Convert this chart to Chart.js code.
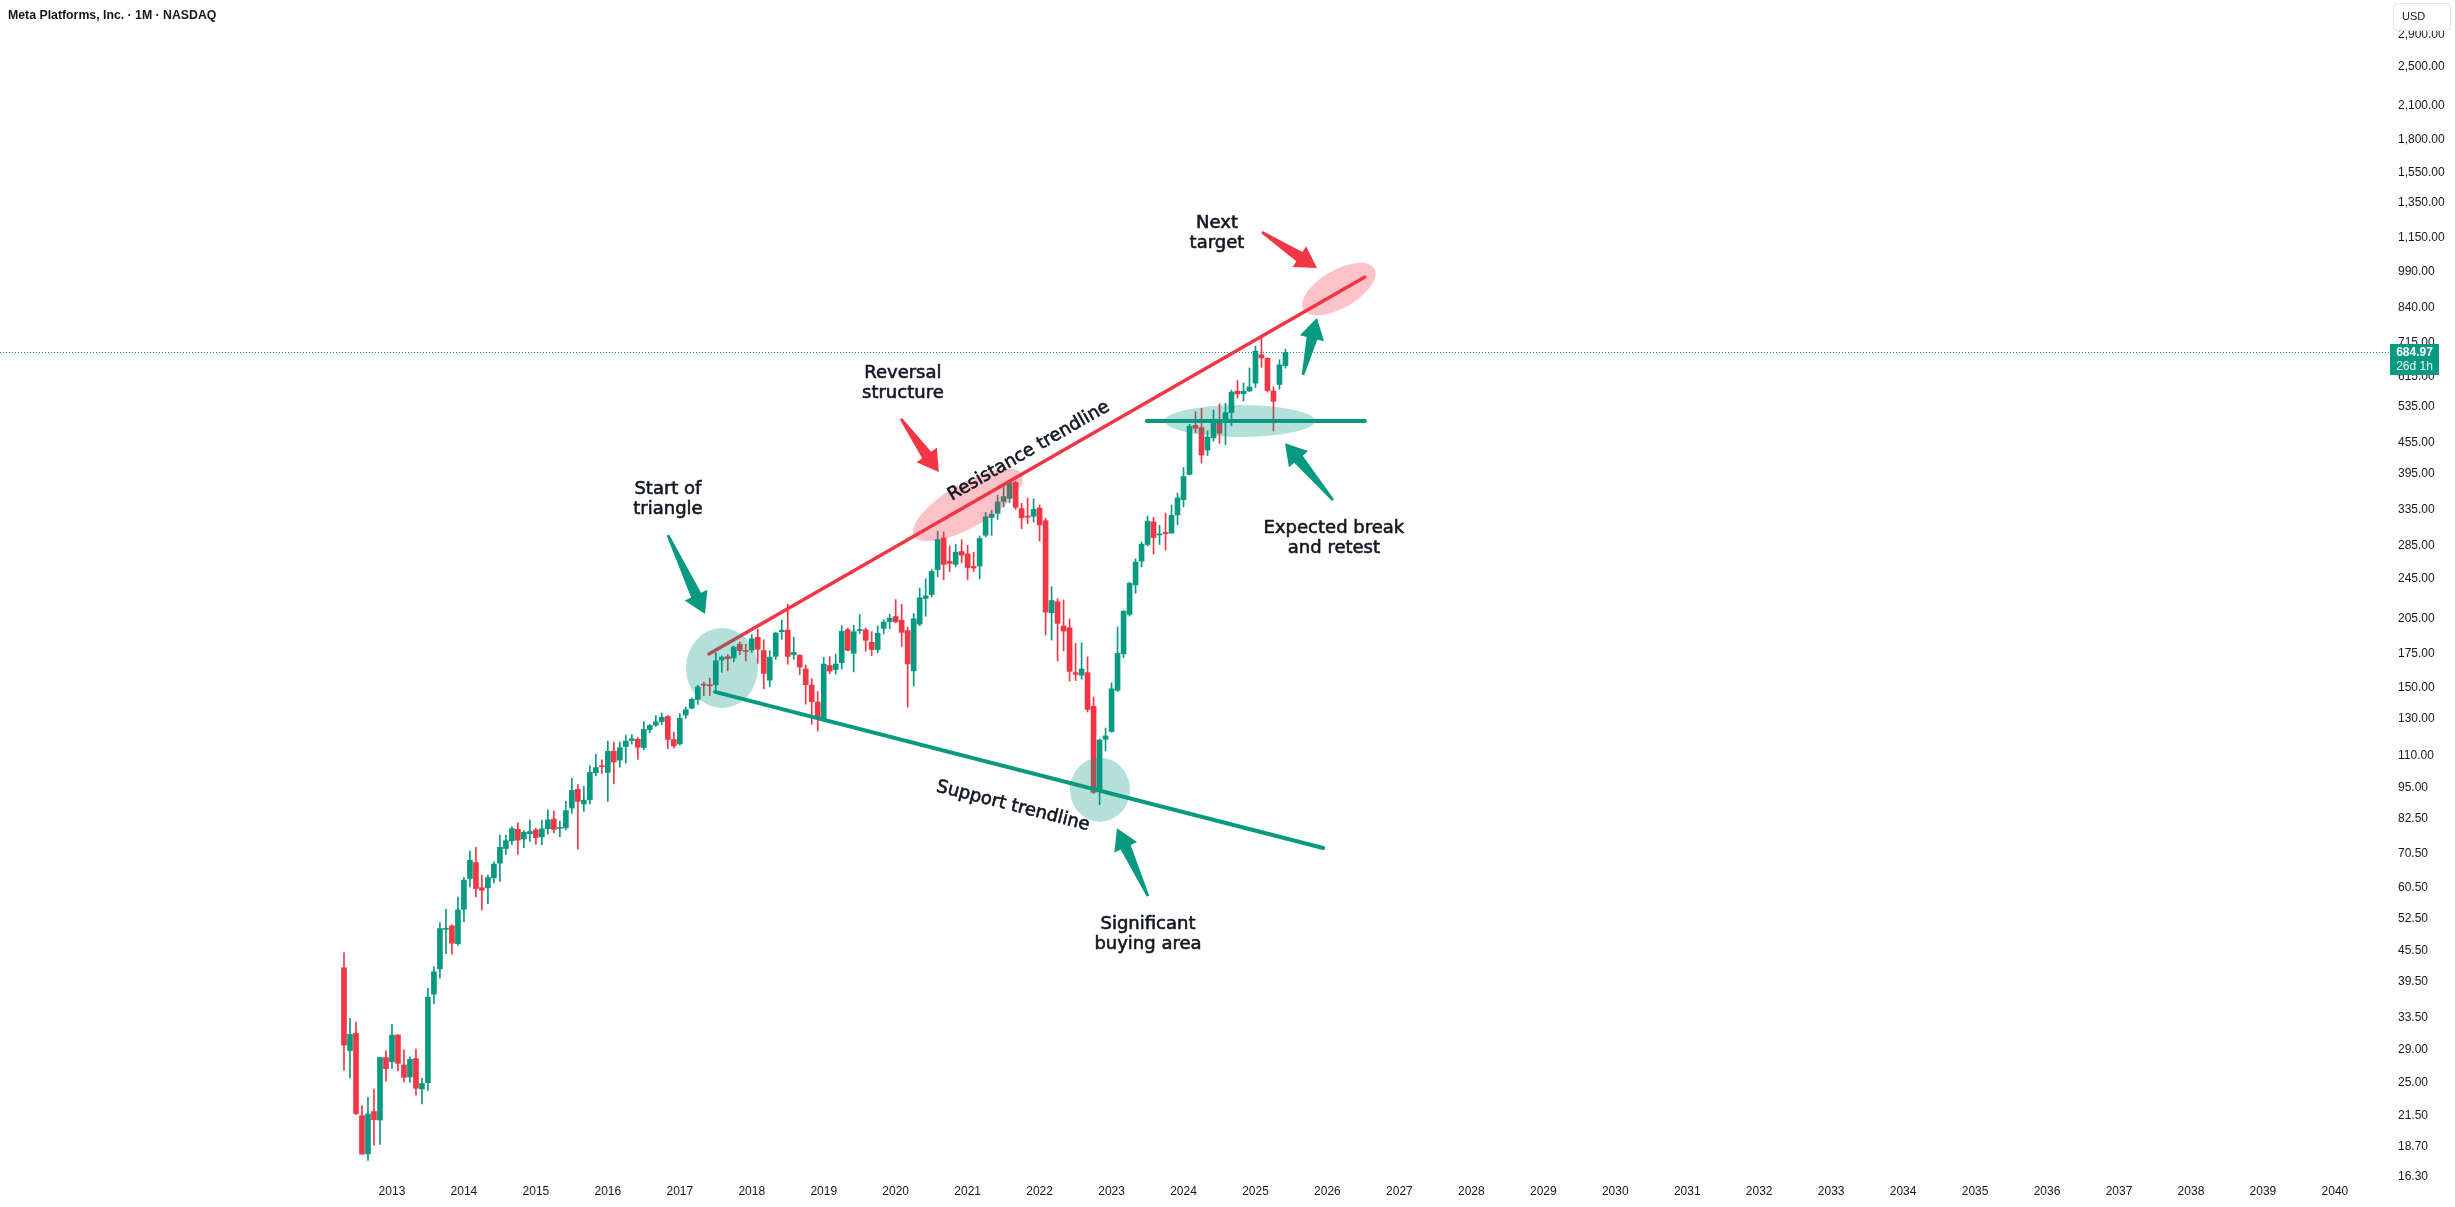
<!DOCTYPE html>
<html>
<head>
<meta charset="utf-8">
<title>Meta Platforms, Inc. · 1M · NASDAQ</title>
<script src="https://cdn.jsdelivr.net/npm/chart.js@4.4.1/dist/chart.umd.min.js"></script>
<style>
  html, body { margin: 0; padding: 0; background: #ffffff; }
  #wrap { width: 2455px; height: 1207px; position: relative; }
</style>
</head>
<body>
<div id="wrap"><canvas id="chart"></canvas></div>
<script>
// ---------------------------------------------------------------------------
// Monthly candles META, May 2012 .. Jun 2025
// ---------------------------------------------------------------------------
const months = [
  "2012-05","2012-06","2012-07","2012-08","2012-09","2012-10","2012-11","2012-12",
  "2013-01","2013-02","2013-03","2013-04","2013-05","2013-06","2013-07","2013-08","2013-09","2013-10","2013-11","2013-12",
  "2014-01","2014-02","2014-03","2014-04","2014-05","2014-06","2014-07","2014-08","2014-09","2014-10","2014-11","2014-12",
  "2015-01","2015-02","2015-03","2015-04","2015-05","2015-06","2015-07","2015-08","2015-09","2015-10","2015-11","2015-12",
  "2016-01","2016-02","2016-03","2016-04","2016-05","2016-06","2016-07","2016-08","2016-09","2016-10","2016-11","2016-12",
  "2017-01","2017-02","2017-03","2017-04","2017-05","2017-06","2017-07","2017-08","2017-09","2017-10","2017-11","2017-12",
  "2018-01","2018-02","2018-03","2018-04","2018-05","2018-06","2018-07","2018-08","2018-09","2018-10","2018-11","2018-12",
  "2019-01","2019-02","2019-03","2019-04","2019-05","2019-06","2019-07","2019-08","2019-09","2019-10","2019-11","2019-12",
  "2020-01","2020-02","2020-03","2020-04","2020-05","2020-06","2020-07","2020-08","2020-09","2020-10","2020-11","2020-12",
  "2021-01","2021-02","2021-03","2021-04","2021-05","2021-06","2021-07","2021-08","2021-09","2021-10","2021-11","2021-12",
  "2022-01","2022-02","2022-03","2022-04","2022-05","2022-06","2022-07","2022-08","2022-09","2022-10","2022-11","2022-12",
  "2023-01","2023-02","2023-03","2023-04","2023-05","2023-06","2023-07","2023-08","2023-09","2023-10","2023-11","2023-12",
  "2024-01","2024-02","2024-03","2024-04","2024-05","2024-06","2024-07","2024-08","2024-09","2024-10","2024-11","2024-12",
  "2025-01","2025-02","2025-03","2025-04","2025-05","2025-06"
];

const opens = [
  42.05, 28.89, 31.25, 21.50, 18.08, 21.90, 21.08, 27.99,
  27.44, 31.01, 27.05, 25.63, 27.85, 24.27, 24.97, 37.30, 41.84, 50.05, 50.85, 46.90,
  54.83, 63.03, 67.76, 60.46, 60.43, 63.23, 67.58, 72.22, 74.80, 78.78, 75.39, 77.26,
  78.58, 76.11, 79.00, 82.50, 79.10, 79.30, 86.77, 94.44, 88.41, 90.05, 101.81, 104.83,
  101.95, 112.27, 107.83, 114.70, 117.83, 118.50, 114.20, 123.85, 126.38, 128.38, 131.41, 118.38,
  116.03, 132.25, 136.47, 141.93, 151.74, 151.75, 151.72, 169.82, 172.40, 171.39, 182.36, 176.85,
  177.68, 188.22, 177.30, 155.00, 172.62, 193.07, 194.50, 173.93, 173.50, 163.03, 151.52, 140.32,
  128.99, 165.60, 162.60, 167.83, 194.78, 175.00, 194.00, 194.70, 184.00, 178.00, 196.00, 202.13,
  206.75, 203.44, 194.03, 161.62, 199.83, 224.59, 228.50, 255.82, 295.33, 265.48, 262.00, 277.67,
  274.78, 259.52, 260.00, 299.00, 324.08, 330.15, 348.51, 353.59, 379.95, 337.45, 326.15, 325.81,
  338.30, 319.30, 210.27, 221.11, 197.99, 196.51, 160.31, 158.49, 160.31, 137.63, 94.33, 118.50,
  122.82, 148.03, 174.59, 208.84, 238.62, 265.90, 286.70, 317.54, 299.37, 302.74, 301.85, 328.00,
  351.32, 393.94, 492.11, 487.20, 439.88, 465.00, 504.00, 502.00, 521.35, 574.57, 568.16, 575.08,
  596.00, 678.00, 667.00, 575.00, 592.40, 645.00
];

const highs = [
  45.00, 33.45, 32.88, 22.50, 23.37, 24.25, 28.00, 28.88,
  32.51, 31.02, 28.98, 28.09, 29.07, 25.46, 38.31, 42.26, 51.60, 54.83, 51.17, 57.96,
  63.37, 71.44, 72.59, 63.91, 64.00, 68.00, 76.74, 76.67, 79.70, 81.16, 78.35, 82.17,
  79.25, 82.20, 86.07, 85.59, 81.82, 89.40, 99.24, 96.49, 95.73, 105.12, 110.65, 107.92,
  117.59, 117.00, 116.99, 120.79, 121.08, 119.44, 128.33, 126.73, 131.98, 133.50, 131.94, 122.50,
  133.14, 137.17, 142.95, 151.53, 153.60, 156.50, 175.49, 173.05, 174.00, 180.80, 184.25, 182.28,
  190.66, 195.32, 186.10, 177.10, 192.72, 203.55, 218.62, 188.30, 173.89, 165.88, 156.00, 147.19,
  171.68, 172.47, 174.30, 198.48, 196.18, 198.88, 208.66, 196.33, 193.14, 198.09, 203.80, 208.93,
  223.21, 218.77, 197.24, 209.69, 235.32, 245.19, 255.85, 304.67, 303.60, 284.75, 287.00, 292.94,
  285.58, 276.60, 298.00, 331.81, 335.00, 358.79, 377.55, 384.33, 382.00, 345.56, 353.83, 352.71,
  343.09, 323.00, 236.86, 224.17, 223.00, 204.36, 183.10, 183.60, 172.19, 143.56, 118.72, 124.67,
  153.12, 197.16, 212.17, 241.69, 268.65, 289.79, 326.20, 324.14, 312.87, 330.54, 342.92, 361.90,
  406.36, 494.36, 523.57, 531.49, 479.85, 527.24, 542.81, 544.23, 577.52, 602.95, 596.00, 638.40,
  704.60, 740.91, 668.50, 586.00, 662.70, 695.00
];

const lows = [
  26.44, 25.52, 21.61, 18.03, 17.55, 18.80, 18.87, 25.15,
  26.63, 26.34, 25.05, 25.00, 23.59, 22.67, 24.10, 35.72, 40.10, 44.82, 44.70, 46.53,
  51.85, 60.70, 57.98, 54.66, 56.26, 61.79, 62.21, 70.32, 73.55, 70.32, 72.52, 74.56,
  73.54, 73.45, 77.10, 77.49, 76.23, 78.55, 84.71, 72.00, 85.42, 88.36, 100.41, 101.46,
  89.37, 96.82, 104.40, 106.31, 115.88, 108.23, 112.98, 122.07, 125.60, 126.75, 113.55, 114.00,
  115.51, 130.30, 136.08, 138.81, 144.42, 144.56, 147.80, 160.52, 161.56, 168.29, 174.00, 169.01,
  175.80, 167.18, 149.02, 150.51, 170.23, 186.43, 166.56, 170.27, 158.87, 139.03, 126.85, 123.02,
  128.56, 159.59, 159.28, 163.00, 177.16, 160.84, 191.50, 176.66, 173.20, 175.34, 191.05, 195.70,
  201.06, 180.50, 137.10, 150.83, 198.24, 207.11, 226.00, 247.43, 244.13, 253.50, 258.86, 263.77,
  244.61, 253.50, 245.37, 296.67, 298.79, 321.27, 339.80, 346.64, 336.04, 308.11, 315.00, 317.25,
  291.26, 190.22, 185.82, 169.00, 177.00, 154.25, 154.61, 155.61, 134.12, 92.60, 88.09, 112.46,
  122.28, 147.06, 171.42, 207.13, 229.85, 258.88, 284.85, 274.38, 286.79, 279.40, 301.85, 313.66,
  340.01, 393.06, 476.00, 414.50, 429.38, 458.00, 453.41, 450.80, 491.01, 557.01, 549.63, 574.00,
  584.00, 640.00, 572.00, 479.80, 580.00, 638.00
];

const closes = [
  29.60, 31.10, 21.71, 18.06, 21.66, 21.11, 28.00, 26.62,
  30.98, 27.25, 25.58, 27.77, 24.35, 24.88, 36.80, 41.29, 50.23, 50.21, 47.01, 54.65,
  62.57, 68.46, 60.24, 59.78, 63.30, 67.29, 72.65, 74.82, 79.04, 74.99, 77.70, 78.02,
  75.91, 78.97, 82.22, 78.77, 79.19, 85.77, 94.01, 89.43, 89.90, 101.97, 104.24, 104.66,
  112.21, 106.92, 114.10, 117.58, 118.81, 114.28, 123.94, 126.12, 128.27, 130.99, 118.42, 115.05,
  130.32, 135.54, 142.05, 150.25, 151.46, 150.98, 169.25, 171.97, 170.87, 180.06, 177.18, 176.46,
  186.89, 178.32, 159.79, 172.00, 191.78, 194.32, 172.58, 175.73, 164.46, 151.79, 140.61, 131.09,
  166.69, 161.45, 166.69, 193.40, 177.47, 193.00, 194.23, 185.67, 178.08, 191.65, 201.64, 205.25,
  201.91, 192.47, 166.80, 204.71, 225.09, 227.07, 253.67, 293.20, 261.90, 263.11, 276.97, 273.16,
  258.33, 257.62, 294.53, 325.08, 328.73, 347.71, 356.30, 379.38, 339.39, 323.57, 324.46, 336.35,
  313.26, 211.03, 222.36, 200.47, 193.64, 161.25, 159.10, 162.93, 135.68, 93.16, 118.10, 120.34,
  148.97, 174.94, 211.94, 240.32, 264.72, 286.98, 318.60, 295.89, 300.21, 301.27, 327.15, 353.96,
  390.14, 490.13, 485.58, 430.17, 466.83, 504.22, 474.83, 521.31, 572.44, 567.58, 574.32, 585.51,
  689.18, 668.20, 576.36, 549.00, 647.49, 684.97
];

// Achsen
const yearTicks = [2013, 2014, 2015, 2016, 2017, 2018, 2019, 2020, 2021, 2022, 2023, 2024, 2025, 2026,
  2027, 2028, 2029, 2030, 2031, 2032, 2033, 2034, 2035, 2036, 2037, 2038, 2039, 2040];
const priceTicks = [2900, 2500, 2100, 1800, 1550, 1350, 1150, 990, 840, 715, 615, 535, 455, 395, 335,
  285, 245, 205, 175, 150, 130, 110, 95, 82.5, 70.5, 60.5, 52.5, 45.5, 39.5, 33.5, 29, 25, 21.5, 18.7, 16.3];

const lastPrice = 684.97;
const countdown = "26d 1h";
const title = "Meta Platforms, Inc. · 1M · NASDAQ";

// Zeichnungen (Zeit, Preis)
const resistanceLine = [[2017.405, 174.5], [2026.52, 964]];
const supportLine = [[2017.49, 146.9], [2025.94, 72.4]];
const retestLine = [[2023.49, 502], [2026.52, 502]];

// ---------------------------------------------------------------------------
const UP = "#089981";
const DOWN = "#F23645";
const TEXT = "#131722";

const ellipses = [
  { at: [2017.586, 163.7], rx: 36, ry: 40, color: "rgba(8,153,129,0.30)" },
  { at: [2021.004, 343.0], rx: 62, ry: 22, color: "rgba(242,54,69,0.30)", along: resistanceLine },
  { at: [2022.839, 94.3], rx: 30, ry: 32, color: "rgba(8,153,129,0.30)" },
  { at: [2024.784, 502.0], rx: 75, ry: 16, color: "rgba(8,153,129,0.30)" },
  { at: [2026.16, 913.0], rx: 41, ry: 19, color: "rgba(242,54,69,0.30)", along: resistanceLine }
];

const arrows = [
  { from: [2016.835, 299.1], to: [2017.35, 209.1], color: UP },
  { from: [2020.073, 506.9], to: [2020.60, 398.1], color: DOWN },
  { from: [2025.09, 1182], to: [2025.854, 1004], color: DOWN },
  { from: [2025.66, 618.5], to: [2025.854, 801], color: UP },
  { from: [2026.077, 350.7], to: [2025.41, 454], color: UP },
  { from: [2023.506, 58.2], to: [2023.075, 79.2], color: UP }
];

const notes = [
  { at: [2016.835, 351.6], lines: ["Start of", "triangle"] },
  { at: [2020.10, 595.6], lines: ["Reversal", "structure"] },
  { at: [2024.465, 1177], lines: ["Next", "target"] },
  { at: [2026.09, 295.3], lines: ["Expected break", "and retest"] },
  { at: [2023.506, 49.0], lines: ["Significant", "buying area"] },
  { at: [2021.852, 437.7], lines: ["Resistance trendline"], along: resistanceLine },
  { at: [2021.63, 87.5], lines: ["Support trendline"], along: supportLine }
];

// ---------------------------------------------------------------------------
// Kerzen aufbereiten
// ---------------------------------------------------------------------------
const candleX = months.map(m => {
  const [y, mo] = m.split("-").map(Number);
  return y + (mo - 1) / 12;
});
const candleColors = closes.map((c, i) => (c >= opens[i] ? UP : DOWN));
const bodies = candleX.map((x, i) => ({ x, y: [opens[i], closes[i]] }));
const wicks = candleX.map((x, i) => ({ x, y: [lows[i], highs[i]] }));
const toPoints = line => line.map(([x, y]) => ({ x, y }));

function lineAngle(chart, line) {
  const xs = chart.scales.x, ys = chart.scales.y;
  const x1 = xs.getPixelForValue(line[0][0]), y1 = ys.getPixelForValue(line[0][1]);
  const x2 = xs.getPixelForValue(line[1][0]), y2 = ys.getPixelForValue(line[1][1]);
  return Math.atan2(y2 - y1, x2 - x1);
}

function drawArrow(ctx, x1, y1, x2, y2, color) {
  const len = Math.hypot(x2 - x1, y2 - y1);
  const ux = (x2 - x1) / len, uy = (y2 - y1) / len;
  const nx = -uy, ny = ux;
  const headLen = 21, headHalf = 12.5, shaftHalf = 5.5, tailHalf = 1.3;
  const bx = x2 - ux * headLen, by = y2 - uy * headLen;
  ctx.fillStyle = color;
  ctx.beginPath();
  ctx.moveTo(x1 + nx * tailHalf, y1 + ny * tailHalf);
  ctx.lineTo(bx + nx * shaftHalf, by + ny * shaftHalf);
  ctx.lineTo(bx + nx * headHalf, by + ny * headHalf);
  ctx.lineTo(x2, y2);
  ctx.lineTo(bx - nx * headHalf, by - ny * headHalf);
  ctx.lineTo(bx - nx * shaftHalf, by - ny * shaftHalf);
  ctx.lineTo(x1 - nx * tailHalf, y1 - ny * tailHalf);
  ctx.closePath();
  ctx.fill();
}

// ---------------------------------------------------------------------------
// Plugin: Preislinie, Ellipsen, Pfeile, Texte, Preislabel
// ---------------------------------------------------------------------------
const overlay = {
  id: "overlay",
  beforeDatasetsDraw(chart) {
    const { ctx, chartArea, scales } = chart;
    const y = Math.round(scales.y.getPixelForValue(lastPrice)) + 0.5;
    ctx.save();
    ctx.strokeStyle = UP;
    ctx.lineWidth = 1;
    ctx.setLineDash([1, 2]);
    ctx.beginPath();
    ctx.moveTo(chartArea.left, y);
    ctx.lineTo(chartArea.right, y);
    ctx.stroke();
    ctx.restore();
  },
  afterDatasetsDraw(chart) {
    const { ctx, chartArea, scales } = chart;
    const px = t => scales.x.getPixelForValue(t);
    const py = p => scales.y.getPixelForValue(p);
    ctx.save();
    ctx.beginPath();
    ctx.rect(chartArea.left, chartArea.top, chartArea.right - chartArea.left, chartArea.bottom - chartArea.top);
    ctx.clip();

    for (const e of ellipses) {
      const rot = e.along ? lineAngle(chart, e.along) : 0;
      ctx.fillStyle = e.color;
      ctx.beginPath();
      ctx.ellipse(px(e.at[0]), py(e.at[1]), e.rx, e.ry, rot, 0, Math.PI * 2);
      ctx.fill();
    }

    for (const a of arrows) {
      drawArrow(ctx, px(a.from[0]), py(a.from[1]), px(a.to[0]), py(a.to[1]), a.color);
    }

    // Texte etwas kräftiger (Strich in Textfarbe)
    ctx.fillStyle = TEXT;
    ctx.strokeStyle = TEXT;
    ctx.lineWidth = 0.6;
    ctx.lineJoin = "round";
    ctx.font = '18px "DejaVu Sans"';
    ctx.textAlign = "center";
    ctx.textBaseline = "middle";
    const lh = 20;
    for (const n of notes) {
      ctx.save();
      ctx.translate(px(n.at[0]), py(n.at[1]));
      if (n.along) ctx.rotate(lineAngle(chart, n.along));
      const y0 = -((n.lines.length - 1) * lh) / 2;
      n.lines.forEach((s, i) => {
        ctx.fillText(s, 0, y0 + i * lh);
        ctx.strokeText(s, 0, y0 + i * lh);
      });
      ctx.restore();
    }
    ctx.restore();
  },
  afterDraw(chart) {
    const { ctx, chartArea, scales } = chart;
    const y = scales.y.getPixelForValue(lastPrice);
    ctx.save();
    // Preislabel
    ctx.fillStyle = UP;
    ctx.fillRect(chartArea.right, Math.round(y) - 8, 49, 31);
    ctx.fillStyle = "#ffffff";
    ctx.textAlign = "center";
    ctx.textBaseline = "middle";
    ctx.font = 'bold 12px "Liberation Sans"';
    ctx.fillText(lastPrice.toFixed(2), chartArea.right + 24.5, Math.round(y) + 1);
    ctx.font = '12px "Liberation Sans"';
    ctx.fillStyle = "rgba(255,255,255,0.92)";
    ctx.fillText(countdown, chartArea.right + 24.5, Math.round(y) + 15);

    // USD Box
    ctx.fillStyle = "#ffffff";
    ctx.strokeStyle = "#e0e3eb";
    ctx.lineWidth = 1;
    ctx.beginPath();
    ctx.roundRect(2393.5, 3.5, 57, 27, 4);
    ctx.fill();
    ctx.stroke();
    ctx.fillStyle = TEXT;
    ctx.textAlign = "left";
    ctx.font = '11px "Liberation Sans"';
    ctx.fillText("USD", 2402, 17);

    // Titel
    ctx.font = 'bold 12.3px "Liberation Sans"';
    ctx.fillText(title, 8, 16);
    ctx.restore();
  }
};

// ---------------------------------------------------------------------------
// Chart
// ---------------------------------------------------------------------------
const axisFont = { family: "Liberation Sans", size: 12 };

new Chart(document.getElementById("chart"), {
  type: "bar",
  data: {
    datasets: [
      {
        type: "line", label: "Resistance trendline", data: toPoints(resistanceLine),
        borderColor: DOWN, borderWidth: 3.5, pointRadius: 0, borderCapStyle: "round", order: 0
      },
      {
        type: "line", label: "Support trendline", data: toPoints(supportLine),
        borderColor: UP, borderWidth: 4, pointRadius: 0, borderCapStyle: "round", order: 0
      },
      {
        type: "line", label: "Retest", data: toPoints(retestLine),
        borderColor: UP, borderWidth: 4, pointRadius: 0, borderCapStyle: "round", order: 0
      },
      {
        label: "Body", data: bodies, backgroundColor: candleColors,
        barThickness: 5, grouped: false, minBarLength: 1, order: 1
      },
      {
        label: "Wick", data: wicks, backgroundColor: candleColors,
        barThickness: 1, grouped: false, order: 2
      }
    ]
  },
  options: {
    responsive: true,
    maintainAspectRatio: false,
    animation: false,
    devicePixelRatio: 1,
    layout: { padding: 0 },
    plugins: {
      legend: { display: false },
      tooltip: { enabled: false },
      title: { display: false }
    },
    scales: {
      x: {
        type: "linear",
        min: 2007.553,
        max: 2040.766,
        bounds: "data",
        offset: false,
        grid: { display: false, drawTicks: false },
        border: { display: false },
        ticks: {
          padding: 4, color: TEXT, font: axisFont, autoSkip: false, maxRotation: 0,
          callback: v => String(v)
        },
        afterBuildTicks: s => { s.ticks = yearTicks.map(v => ({ value: v })); },
        afterFit: s => { s.height = 27; s.paddingLeft = 0; s.paddingRight = 0; }
      },
      y: {
        type: "logarithmic",
        position: "right",
        min: 16.06,
        max: 3387,
        bounds: "data",
        grid: { display: false, drawTicks: false },
        border: { display: false },
        ticks: {
          padding: 8, crossAlign: "near", color: TEXT, font: axisFont, autoSkip: false,
          callback: v => Number(v).toLocaleString("en-US", { minimumFractionDigits: 2, maximumFractionDigits: 2 })
        },
        afterBuildTicks: s => { s.ticks = priceTicks.map(v => ({ value: v })); },
        afterFit: s => { s.width = 65; s.paddingTop = 0; s.paddingBottom = 0; }
      }
    }
  },
  plugins: [overlay]
});
</script>
</body>
</html>
